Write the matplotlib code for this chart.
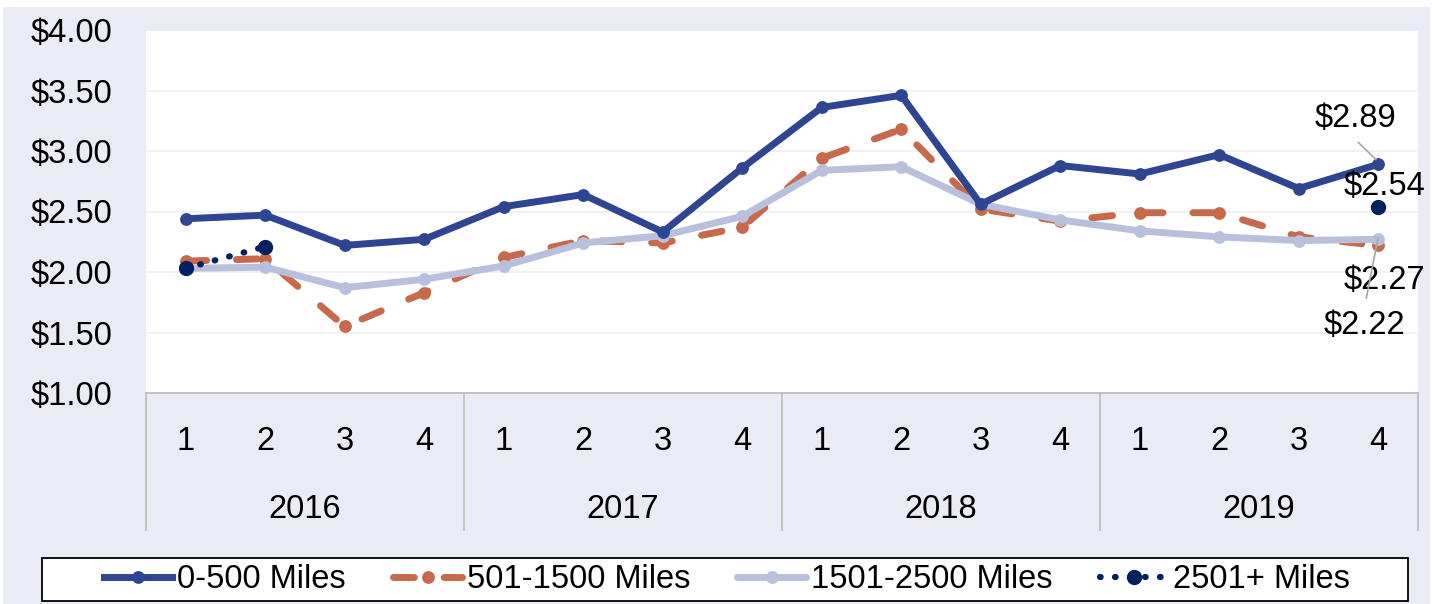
import matplotlib.pyplot as plt
import matplotlib.transforms as mtransforms
from matplotlib.patches import Rectangle
import numpy as np

plt.rcParams['font.family'] = ['Liberation Sans', 'DejaVu Sans']

years = ["2016", "2017", "2018", "2019"]
quarters = ["1", "2", "3", "4"] * 4

miles_0_500 = [2.44, 2.47, 2.22, 2.27, 2.54, 2.64, 2.33, 2.86,
               3.36, 3.46, 2.56, 2.88, 2.81, 2.97, 2.69, 2.89]
miles_501_1500 = [2.09, 2.11, 1.55, 1.83, 2.12, 2.26, 2.24, 2.37,
                  2.94, 3.18, 2.52, 2.42, 2.49, 2.49, 2.29, 2.22]
miles_1501_2500 = [2.03, 2.04, 1.87, 1.94, 2.05, 2.24, 2.30, 2.46,
                   2.84, 2.87, 2.56, 2.43, 2.34, 2.29, 2.26, 2.27]
nan = np.nan
miles_2501 = [2.03, 2.21, nan, nan, nan, nan, nan, nan,
              nan, nan, nan, nan, nan, nan, nan, 2.54]

c_blue = "#2E4591"
c_orange = "#C8694B"
c_lav = "#B8C0DE"
c_navy = "#002060"
fs = 23.5
lw = 5.0

W, H = 1435, 604
fig = plt.figure(figsize=(W / 100, H / 100), dpi=100)
fig.patch.set_facecolor("white")
fig.patches.append(Rectangle((3 / W, 0), 1427 / W, 597 / H, transform=fig.transFigure,
                             facecolor="#EBEBF5", edgecolor="none", zorder=-10))

ax = fig.add_axes([146 / W, 1 - 393 / H, 1272 / W, 363 / H])
ax.set_facecolor("white")
x = np.arange(16)

l2, = ax.plot(x, miles_501_1500, color=c_orange, lw=lw, ls=(0, (3.0, 4.3)),
              dash_capstyle="round", marker="o", ms=8.2, label="501-1500 Miles", zorder=3)
l3, = ax.plot(x, miles_1501_2500, color=c_lav, lw=lw, marker="o", ms=8.2,
              solid_capstyle="round", label="1501-2500 Miles", zorder=4)
l1, = ax.plot(x, miles_0_500, color=c_blue, lw=lw, marker="o", ms=8.2,
              label="0-500 Miles", zorder=5)
l4, = ax.plot(x, miles_2501, color=c_navy, lw=4.5, ls=(0, (0.1, 2.3)),
              dash_capstyle="round", marker="o", ms=10, label="2501+ Miles", zorder=6)

ax.set_xlim(-0.5, 15.5)
ax.set_ylim(1.0, 4.0)
ax.set_yticks(np.arange(1.0, 4.01, 0.5))
ax.set_yticklabels(["${:.2f}".format(v) for v in np.arange(1.0, 4.01, 0.5)], fontsize=fs)
ax.set_xticks(x)
ax.set_xticklabels(quarters, fontsize=fs)
ax.tick_params(axis="y", length=0, pad=24)
ax.tick_params(axis="x", length=0, pad=24)
ax.grid(axis="y", color="#EFEFEF", lw=1.2)
ax.set_axisbelow(True)
for s in ["top", "right", "left"]:
    ax.spines[s].set_visible(False)
ax.spines["bottom"].set_color("#BFBFBF")
ax.spines["bottom"].set_linewidth(1.3)

# category axis boxes
trans = mtransforms.blended_transform_factory(ax.transData, ax.transAxes)
for b in [-0.5, 3.5, 7.5, 11.5, 15.5]:
    ax.plot([b, b], [0, -137 / 363], color="#BFBFBF", lw=1.3, transform=trans, clip_on=False)
for i, yr in enumerate(years):
    ax.text(4 * i + 1.5, -117 / 363, yr, transform=trans, ha="center", va="center", fontsize=fs)

# data labels
ax.text(14.71, 3.27, "$2.89", ha="center", va="center", fontsize=fs, zorder=7)
ax.plot([14.75, 14.97], [3.07, 2.93], color="#A6A6A6", lw=1.2, zorder=7)
ax.text(15.08, 2.71, "$2.54", ha="center", va="center", fontsize=fs, zorder=7)
ax.text(15.08, 1.93, "$2.27", ha="center", va="center", fontsize=fs, zorder=7)
ax.plot([14.997, 14.85], [2.28, 1.785], color="#A6A6A6", lw=1.2, zorder=7)
ax.text(14.83, 1.56, "$2.22", ha="center", va="center", fontsize=fs, zorder=7)

# legend with its own box
fig.patches.append(Rectangle((42 / W, 1 - 601 / H), 1366 / W, 43 / H, transform=fig.transFigure,
                             facecolor="white", edgecolor="black", lw=1.3, zorder=1))
leg = fig.legend(handles=[l1, l2, l3, l4], loc="center", ncol=4,
                 bbox_to_anchor=(727 / W, 1 - 580 / H), fontsize=fs,
                 frameon=False, handlelength=2.1, handletextpad=0.15,
                 columnspacing=1.45, borderpad=0.0, borderaxespad=0.0)
leg.set_zorder(2)

fig.savefig("out.png", dpi=100)
